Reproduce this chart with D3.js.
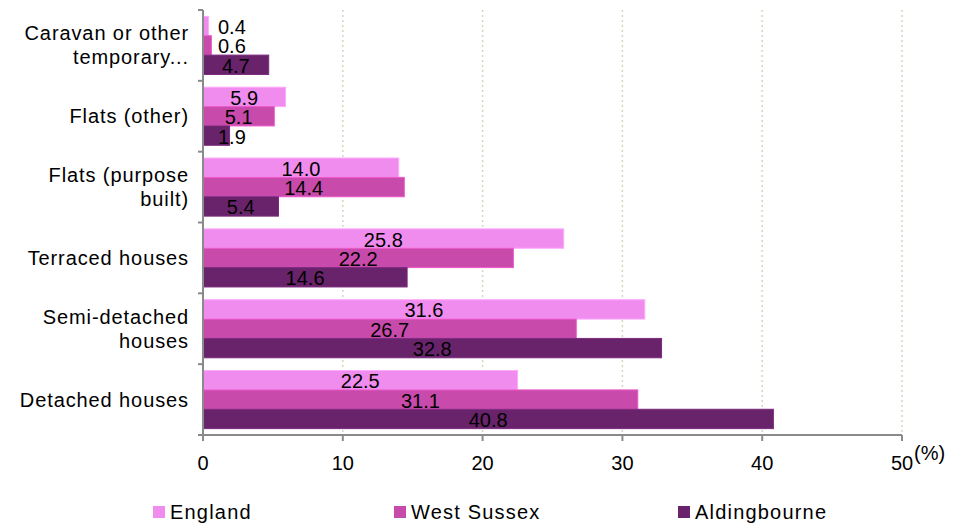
<!DOCTYPE html>
<html>
<head>
<meta charset="utf-8">
<script src="https://cdn.jsdelivr.net/npm/d3@7"></script>
<style>
  html, body { margin: 0; padding: 0; background: #fff; }
  svg { display: block; font-family: "Liberation Sans", Arial, sans-serif; }
</style>
</head>
<body>
<svg id="chart" width="966" height="525"></svg>
<script>
// ---- data ----
const categories = [
  ["Caravan or other", "temporary..."],
  ["Flats (other)"],
  ["Flats (purpose", "built)"],
  ["Terraced houses"],
  ["Semi-detached", "houses"],
  ["Detached houses"]
];
const seriesNames = ["England", "West Sussex", "Aldingbourne"];
const england      = [0.4, 5.9, 14.0, 25.8, 31.6, 22.5];
const westSussex   = [0.6, 5.1, 14.4, 22.2, 26.7, 31.1];
const aldingbourne = [4.7, 1.9, 5.4, 14.6, 32.8, 40.8];
const xTicks = [0, 10, 20, 30, 40, 50];
const unitLabel = "(%)";

(function () {
const seriesValues = [england, westSussex, aldingbourne];
const colors = ["#F08CEE", "#C84AAB", "#68236A"];

// ---- layout ----
const svg = d3.select("#chart");
const pL = 203, pR = 902, pT = 10, pB = 435;

const x = d3.scaleLinear().domain([0, 50]).range([pL, pR]);
const y = d3.scaleBand().domain(d3.range(categories.length))
  .range([pT, pB]).paddingInner(0.18).paddingOuter(0.09);
const yOuter = d3.scaleBand().domain(d3.range(categories.length)).range([pT, pB]);
const ySub = d3.scaleBand().domain(d3.range(seriesNames.length)).range([0, y.bandwidth()]);

// gridlines
svg.append("g").selectAll("line").data(xTicks.filter(d => d > 0)).join("line")
  .attr("x1", d => x(d)).attr("x2", d => x(d))
  .attr("y1", pT).attr("y2", pB)
  .attr("stroke", "#d9d5bd").attr("stroke-width", 1.5)
  .attr("stroke-dasharray", "2,3");

// bars
const groups = svg.append("g").selectAll("g").data(categories).join("g")
  .attr("transform", (d, i) => `translate(0,${y(i)})`);

groups.each(function(cat, i) {
  const g = d3.select(this);
  seriesValues.forEach((vals, s) => {
    g.append("rect")
      .attr("x", x(0))
      .attr("y", ySub(s))
      .attr("width", x(vals[i]) - x(0))
      .attr("height", ySub.bandwidth())
      .attr("fill", colors[s])
      .attr("stroke", d3.color(colors[s]).brighter(0.5))
      .attr("stroke-width", 1);
  });
});

// data labels
groups.each(function(cat, i) {
  const g = d3.select(this);
  seriesValues.forEach((vals, s) => {
    const t = g.append("text")
      .attr("y", ySub(s) + ySub.bandwidth() / 2 + 8)
      .attr("text-anchor", "middle")
      .attr("font-size", "20px")
      .attr("fill", "#000")
      .text(vals[i].toFixed(1));
    const w = t.node().getComputedTextLength();
    const cx = Math.max((x(0) + x(vals[i])) / 2, x(0) + 15 + w / 2);
    t.attr("x", cx);
  });
});

// axes lines
const axisColor = "#8a8a8a";
svg.append("line").attr("x1", pL).attr("x2", pL).attr("y1", pT).attr("y2", pB + 6)
  .attr("stroke", axisColor).attr("stroke-width", 2);
svg.append("line").attr("x1", pL - 5).attr("x2", pR).attr("y1", pB).attr("y2", pB)
  .attr("stroke", axisColor).attr("stroke-width", 2);
// y ticks at band boundaries
svg.append("g").selectAll("line").data(d3.range(categories.length + 1)).join("line")
  .attr("x1", pL - 5).attr("x2", pL)
  .attr("y1", d => pT + d * yOuter.step()).attr("y2", d => pT + d * yOuter.step())
  .attr("stroke", axisColor).attr("stroke-width", 2);
// x ticks
svg.append("g").selectAll("line").data(xTicks).join("line")
  .attr("x1", d => x(d)).attr("x2", d => x(d))
  .attr("y1", pB).attr("y2", pB + 6)
  .attr("stroke", axisColor).attr("stroke-width", 2);

// x tick labels
svg.append("g").selectAll("text").data(xTicks).join("text")
  .attr("x", d => x(d)).attr("y", pB + 35)
  .attr("text-anchor", "middle").attr("font-size", "20px").attr("fill", "#000")
  .text(d => d);
svg.append("text").attr("x", x(50) + 12).attr("y", pB + 25)
  .attr("font-size", "20px").attr("fill", "#000").text(unitLabel);

// category labels
svg.append("g").selectAll("text").data(categories).join("text")
  .attr("text-anchor", "end")
  .attr("font-size", "20px").attr("letter-spacing", "0.9px").attr("fill", "#000")
  .each(function(lines, i) {
    const cy = yOuter(i) + yOuter.bandwidth() / 2;
    const lh = 24;
    const y0 = cy - (lines.length - 1) * lh / 2 + 7;
    d3.select(this).selectAll("tspan").data(lines).join("tspan")
      .attr("x", 189).attr("y", (d, k) => y0 + k * lh).text(d => d);
  });

// legend
const legendX = [153, 394, 678];
const legend = svg.append("g").selectAll("g").data(seriesNames).join("g")
  .attr("transform", (d, i) => `translate(${legendX[i]},506)`);
legend.append("rect").attr("width", 12).attr("height", 12).attr("fill", (d, i) => colors[i]);
legend.append("text").attr("x", 17).attr("y", 13)
  .attr("font-size", "20px").attr("letter-spacing", "1.2px").attr("fill", "#000")
  .text(d => d);
})();
</script>
</body>
</html>
